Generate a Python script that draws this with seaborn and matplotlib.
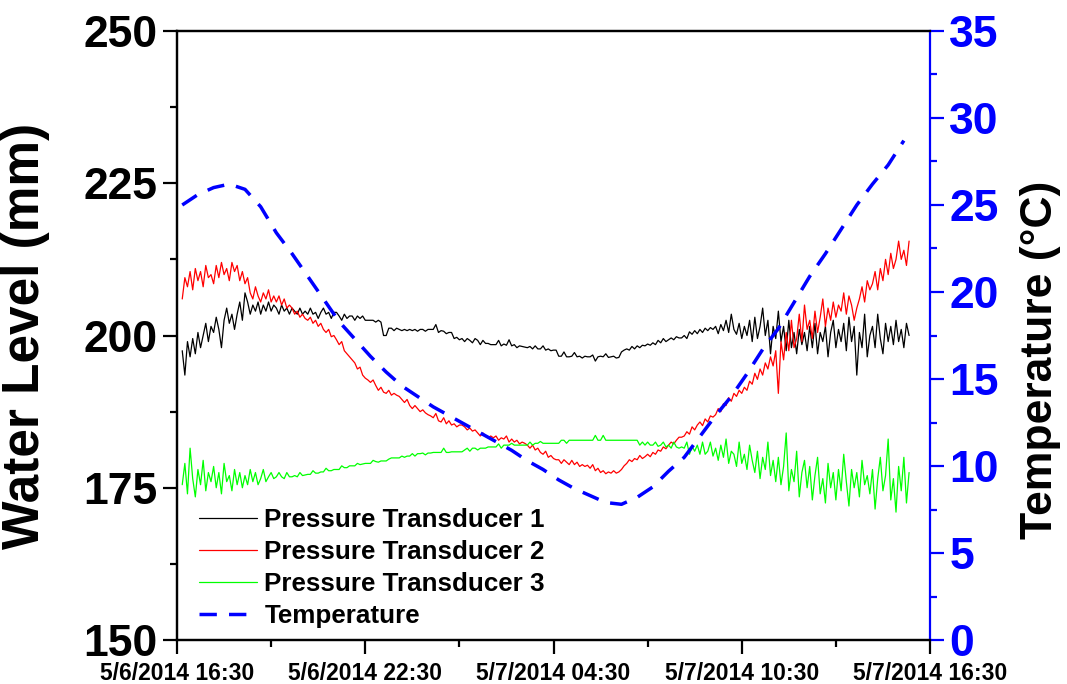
import numpy as np
import pandas as pd
import matplotlib
matplotlib.use("Agg")
import matplotlib.pyplot as plt
import matplotlib.dates as mdates
from matplotlib.ticker import MultipleLocator, FuncFormatter
import seaborn as sns

# water level readings (mm), every 5 min from 5/6/2014 16:40
pt1 = [
    197.5, 193.5, 199.0, 196.5, 199.5, 197.0, 200.5, 198.0, 200.0, 202.0, 199.0, 201.5,
    200.5, 203.0, 201.0, 198.0, 202.5, 204.5, 202.0, 203.5, 201.0, 203.5, 205.5, 202.5,
    207.0, 205.5, 203.5, 205.0, 204.0, 205.5, 203.5, 205.0, 204.0, 205.5, 204.0, 205.0,
    204.5, 203.5, 205.0, 204.0, 204.5, 203.5, 204.5, 204.0, 203.5, 204.5, 203.5, 204.0,
    203.5, 204.5, 203.5, 203.8, 202.8, 203.8, 204.5, 203.5, 203.8, 202.8, 203.8, 203.8,
    203.2, 202.5, 203.5, 202.8, 203.2, 203.2, 202.5, 203.2, 202.8, 203.2, 202.5, 202.5,
    202.5, 202.5, 202.2, 202.5, 202.2, 200.0, 200.0, 201.2, 201.2, 200.8, 201.2, 201.0,
    200.8, 201.0, 200.8, 201.0, 200.8, 201.0, 200.7, 201.0, 201.0, 200.7, 201.0, 201.0,
    201.0, 201.8, 200.5, 200.8, 200.7, 200.3, 200.5, 200.5, 199.5, 199.7, 199.3, 199.5,
    199.0, 199.5, 199.2, 198.8, 199.5, 199.2, 198.5, 199.2, 198.7, 198.7, 198.5, 198.5,
    198.5, 199.2, 198.3, 198.6, 198.4, 199.3, 198.3, 198.5, 198.0, 198.3, 198.2, 198.1,
    198.0, 198.2, 197.8, 198.3, 197.8, 197.8, 198.3, 197.6, 197.8, 197.5, 197.6, 197.6,
    196.6, 196.6, 197.3, 196.5, 196.5, 196.6, 197.2, 196.5, 196.6, 196.3, 196.6, 196.5,
    196.5, 196.8, 195.8, 196.5, 196.6, 196.5, 197.0, 196.4, 196.5, 196.6, 196.3, 196.4,
    197.3, 197.6, 197.8, 197.6, 198.2, 197.8, 198.3, 198.0, 198.4, 198.3, 198.6, 198.4,
    198.8, 198.5, 199.2, 198.8, 199.5, 199.0, 199.3, 199.6, 199.3, 199.8, 199.6, 199.6,
    200.0, 199.5, 200.6, 200.2, 200.8, 200.3, 201.0, 200.5, 201.2, 200.8, 201.3, 201.0,
    201.5, 200.3, 201.8, 200.8, 202.5, 200.5, 203.5, 201.0, 200.2, 202.0, 199.5, 201.5,
    200.0, 202.5, 199.0, 203.0, 199.5, 201.5, 204.5, 200.0, 202.5, 197.0, 201.5, 199.5,
    204.0, 199.0, 201.5, 197.5, 202.5, 198.0, 200.5, 197.0, 201.0, 198.5, 200.5, 197.5,
    201.5, 198.0, 202.0, 197.0, 200.5, 199.0, 201.5, 196.5, 200.5, 202.5, 198.0, 201.0,
    199.0, 202.0, 197.5, 203.0, 199.0, 201.5, 193.5, 200.5, 198.0, 203.5, 196.5, 200.0,
    201.5, 198.0, 203.5, 199.5, 197.0, 202.0, 199.0, 201.5, 198.5, 202.5, 199.0, 201.0,
    198.0, 202.0, 200.0,
]
pt2 = [
    206.0, 209.5, 208.0, 210.5, 207.5, 211.0, 209.0, 210.5, 208.0, 211.5, 209.5, 210.0,
    208.5, 211.5, 209.5, 212.0, 210.0, 211.0, 209.0, 212.0, 210.5, 211.5, 209.0, 210.5,
    208.5, 209.5, 207.0, 206.0, 208.0, 206.5, 205.5, 207.0, 206.0, 207.5, 205.5, 206.5,
    205.5, 206.5, 205.0, 206.0, 204.5, 205.0, 204.5, 203.5, 204.0, 203.0, 203.5, 202.8,
    202.5, 203.0, 202.0, 202.5, 201.5, 202.0, 201.0, 200.5, 201.0, 199.8, 200.0, 199.3,
    198.5, 199.0, 197.5, 197.0, 196.5, 196.0, 195.5, 194.5, 194.8, 193.5, 193.0, 192.7,
    192.3, 192.7, 191.8, 191.0, 191.5, 190.7, 190.5, 191.0, 190.2, 190.5, 190.2, 190.0,
    189.5, 189.0, 189.5, 188.5, 188.0, 188.5, 188.0, 187.5, 187.8, 187.3, 187.0, 186.8,
    186.5, 187.2, 186.0, 185.8, 186.5, 185.5, 186.0, 185.3, 185.5, 185.0, 185.3, 185.3,
    185.0, 184.5, 184.8, 184.3, 184.5, 184.0, 183.5, 184.0, 183.5, 183.2, 183.5, 183.2,
    183.5, 182.8, 183.2, 183.0, 183.5, 182.5, 183.0, 182.5, 182.8, 182.2, 182.5, 182.3,
    182.0, 181.5, 182.0, 181.2, 181.5, 180.8, 180.5, 181.0, 180.0, 180.3, 179.8, 179.6,
    179.6, 179.0, 179.6, 179.2, 178.8, 179.5, 178.8, 179.2, 178.5, 178.8, 178.5, 178.7,
    178.2, 178.8, 177.8, 178.2, 177.5, 177.8, 177.3, 177.6, 177.4, 177.8, 177.4, 177.6,
    178.0, 178.6, 179.0, 179.6, 179.3, 179.8, 179.6, 180.3, 179.8, 180.1, 180.5, 180.1,
    180.8, 180.5, 181.2, 181.0, 181.7, 181.4, 182.0, 182.5, 182.2, 182.8, 183.3, 183.3,
    183.5, 184.2, 183.8, 185.0, 184.5, 185.3, 185.8, 185.2, 186.3, 185.8, 186.8, 186.6,
    187.0, 188.0, 187.5, 188.8, 188.5, 189.8, 189.2, 190.5, 190.0, 191.0, 190.5, 191.5,
    191.0, 192.5, 192.0, 193.8, 192.8, 194.5, 193.5, 195.5, 194.5, 196.5, 195.0, 197.5,
    190.5, 199.0, 196.0, 200.5, 197.5, 202.5, 198.0, 199.5, 203.5, 199.0, 205.0, 201.0,
    202.5, 199.5, 204.0, 200.5, 203.0, 206.0, 201.5, 204.5, 202.5, 205.5, 203.0, 205.0,
    204.0, 207.0, 203.5, 206.5, 205.0, 202.5, 204.5, 206.0, 208.0, 205.5, 209.0, 207.5,
    208.5, 210.5, 207.5, 211.0, 209.0, 212.5, 210.0, 213.5, 211.0, 212.5, 215.5, 212.5,
    214.0, 211.5, 215.5,
]
pt3 = [
    175.5, 179.0, 174.0, 181.5, 176.5, 173.5, 178.0, 175.5, 179.5, 174.5, 177.5, 176.0,
    178.5, 175.0, 177.5, 174.0, 179.0, 176.0, 177.0, 174.5, 178.0, 175.5, 177.5, 175.0,
    177.0, 175.5, 178.0, 176.0, 177.5, 175.5, 176.5, 178.0, 176.0, 176.8, 177.5, 176.5,
    176.8, 177.5, 176.8, 176.5, 177.5, 176.8, 176.8, 177.0, 176.8, 177.5, 177.0, 177.1,
    177.2, 177.2, 177.8, 177.4, 177.4, 177.6, 177.6, 178.2, 177.8, 177.8, 178.0, 178.0,
    178.0, 178.6, 178.3, 178.3, 178.6, 178.6, 178.6, 179.0, 178.8, 178.9, 179.0, 179.0,
    179.0, 179.5, 179.3, 179.2, 179.4, 179.4, 179.4, 179.7, 179.9, 179.9, 179.9, 179.9,
    180.2, 180.0, 180.2, 180.2, 180.6, 180.2, 180.6, 180.6, 180.7, 180.4, 180.7, 180.7,
    180.8, 180.8, 180.8, 180.8, 181.5, 180.8, 180.8, 180.9, 180.9, 180.9, 180.9, 180.9,
    181.2, 181.5, 181.0, 181.5, 181.5, 181.2, 181.5, 181.5, 181.5, 181.7, 181.7, 181.7,
    181.7, 182.2, 181.5, 182.0, 182.0, 182.0, 182.3, 182.0, 182.0, 182.0, 182.0, 182.0,
    182.0, 182.5, 182.0, 182.3, 182.3, 182.6, 182.3, 182.3, 182.3, 182.3, 182.3, 182.3,
    182.3, 182.8, 182.8, 182.3, 182.8, 182.8, 182.8, 182.8, 182.8, 182.8, 182.8, 182.8,
    182.8, 182.8, 183.6, 182.8, 182.8, 183.6, 182.8, 182.8, 182.8, 182.8, 182.8, 182.8,
    182.8, 182.8, 182.8, 182.8, 182.8, 182.8, 182.8, 182.0, 182.5, 182.0, 182.5, 182.0,
    182.0, 182.5, 181.8, 182.0, 182.5, 181.7, 182.0, 181.5, 182.5, 181.7, 181.5, 181.7,
    181.5, 182.5, 180.5, 181.8, 181.0, 182.0, 180.5, 182.5, 180.5, 181.0, 182.5, 180.2,
    181.5, 179.5, 182.0, 180.0, 183.0, 179.0, 181.0, 180.5, 178.5, 182.5, 179.0, 180.5,
    178.0, 182.0, 179.5, 177.5, 181.0, 176.5, 180.0, 178.0, 182.5, 177.0, 179.5, 176.0,
    180.0, 175.5, 178.5, 184.0, 174.5, 178.0, 176.0, 181.0, 173.5, 177.5, 179.5, 175.0,
    178.5, 173.0, 177.0, 180.0, 174.0, 176.5, 172.5, 179.0, 175.0, 177.5, 173.0, 178.0,
    174.5, 180.5, 176.0, 172.0, 178.0, 175.0, 177.5, 173.5, 179.5, 175.5, 177.0, 174.0,
    178.0, 171.5, 176.5, 180.0, 174.5, 177.0, 183.0, 173.0, 176.5, 171.0, 178.5, 174.5,
    180.0, 172.5, 177.5,
]
# temperature (deg C), every 30 min from 5/6/2014 16:40
temp = [
    25.0, 25.6, 26.0, 26.2, 25.9, 24.9, 23.4, 22.2, 20.9, 19.6, 18.3, 17.3,
    16.3, 15.4, 14.6, 14.0, 13.4, 12.9, 12.4, 11.9, 11.4, 10.9, 10.3, 9.8,
    9.2, 8.7, 8.3, 7.9, 7.8, 8.2, 8.8, 9.7, 10.5, 11.7, 12.9, 14.0,
    15.3, 16.7, 17.9, 19.4, 20.9, 22.2, 23.6, 25.0, 26.2, 27.3, 28.7,
]

time = pd.date_range("2014-05-06 16:40", periods=len(pt1), freq="5min")
temp_time = pd.date_range("2014-05-06 16:40", periods=len(temp), freq="30min")
df = pd.DataFrame({"time": time, "pt1": pt1, "pt2": pt2, "pt3": pt3})
tdf = pd.DataFrame({"time": temp_time, "temp": temp})

sns.set_theme(style="ticks")
plt.rcParams["font.family"] = ["Liberation Sans", "DejaVu Sans"]
plt.rcParams["font.weight"] = "bold"
for k in ["text.color", "axes.labelcolor", "xtick.color", "ytick.color", "axes.edgecolor"]:
    plt.rcParams[k] = "black"

fig = plt.figure(figsize=(10.67, 6.84), dpi=100)
ax = fig.add_axes([0.1659, 0.0643, 0.7057, 0.8904])
ax2 = ax.twinx()

sns.lineplot(data=df, x="time", y="pt1", ax=ax, color="black", lw=0.9,
             label="Pressure Transducer 1", legend=False)
sns.lineplot(data=df, x="time", y="pt2", ax=ax, color="#ff0000", lw=0.9,
             label="Pressure Transducer 2", legend=False)
sns.lineplot(data=df, x="time", y="pt3", ax=ax, color="#00ff00", lw=0.9,
             label="Pressure Transducer 3", legend=False)
sns.lineplot(data=tdf, x="time", y="temp", ax=ax2, color="#0000ff", lw=2.5,
             label="Temperature", legend=False)
ax2.lines[0].set_dashes((5, 3.5))

x0 = pd.Timestamp("2014-05-06 16:30")
x1 = pd.Timestamp("2014-05-07 16:30")
ax.set_xlim(x0, x1)
ax.set_xticks(pd.date_range(x0, x1, freq="6h"))
ax.set_xticks(pd.date_range(x0, x1, freq="3h"), minor=True)
ax.xaxis.set_major_formatter(FuncFormatter(
    lambda v, p: (lambda d: f"{d.month}/{d.day}/{d.year} {d:%H:%M}")(mdates.num2date(v))))

ax.set_ylim(150, 250)
ax.yaxis.set_major_locator(MultipleLocator(25))
ax.yaxis.set_minor_locator(MultipleLocator(12.5))
ax2.set_ylim(0, 35)
ax2.yaxis.set_major_locator(MultipleLocator(5))
ax2.yaxis.set_minor_locator(MultipleLocator(2.5))

ax.set_xlabel("")
ax.set_ylabel("Water Level (mm)", fontsize=37, fontweight="bold", color="black")
ax.yaxis.set_label_coords(-0.169, 0.5)
ax2.set_ylabel("Temperature (°C)", fontsize=32, fontweight="bold", color="black")
ax2.yaxis.set_label_coords(1.12, 0.46)

ax.tick_params(axis="y", which="major", direction="out", length=10, width=1.6,
               labelsize=32, pad=4, colors="black")
ax.tick_params(axis="y", which="minor", direction="out", length=5, width=1.6, colors="black")
ax.tick_params(axis="x", which="major", direction="out", length=10, width=1.6,
               labelsize=16.5, pad=6, colors="black")
ax.tick_params(axis="x", which="minor", direction="out", length=5, width=1.6, colors="black")
ax2.tick_params(axis="y", which="major", direction="out", length=10, width=1.6,
                labelsize=32, colors="#0000ff", pad=4)
ax2.tick_params(axis="y", which="minor", direction="out", length=5, width=1.6,
                colors="#0000ff")
for lbl in ax.get_yticklabels() + ax.get_xticklabels() + ax2.get_yticklabels():
    lbl.set_fontweight("bold")

for s in ["left", "bottom", "top"]:
    ax.spines[s].set_linewidth(1.6)
    ax.spines[s].set_color("black")
    ax2.spines[s].set_linewidth(1.6)
    ax2.spines[s].set_color("black")
ax2.spines["right"].set_color("#0000ff")
ax2.spines["right"].set_linewidth(1.6)
ax.spines["right"].set_visible(False)

h1, l1 = ax.get_legend_handles_labels()
h2, l2 = ax2.get_legend_handles_labels()
leg = ax2.legend(h1 + h2, l1 + l2, loc="lower left", frameon=False,
                 prop={"weight": "bold", "size": 18.7}, handlelength=2.2,
                 handletextpad=0.3, labelspacing=0.3, borderaxespad=0,
                 bbox_to_anchor=(0.016, 0.003))
for t in leg.get_texts():
    t.set_color("black")

fig.savefig("out.png", dpi=100)
